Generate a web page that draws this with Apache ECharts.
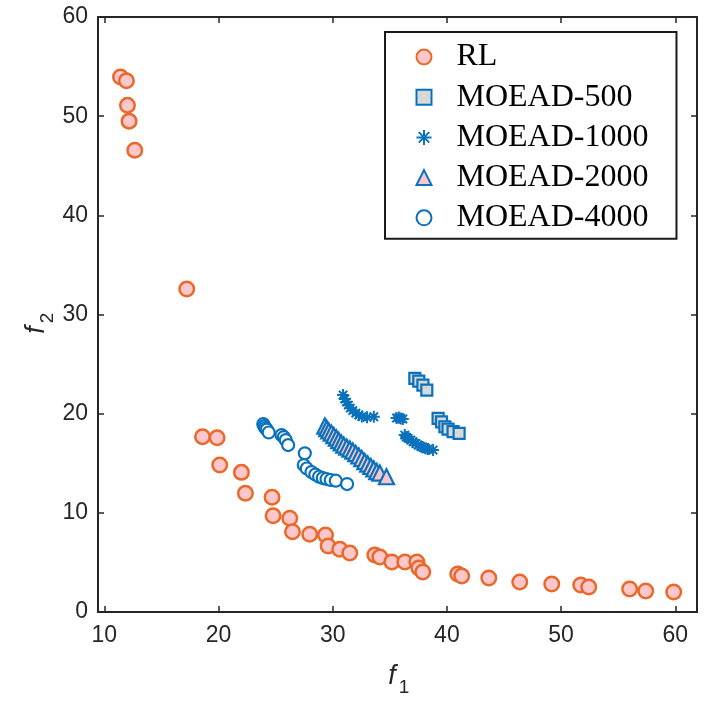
<!DOCTYPE html>
<html>
<head>
<meta charset="utf-8">
<script src="https://cdn.jsdelivr.net/npm/echarts@6/dist/echarts.min.js"></script>
<style>
  html, body { margin: 0; padding: 0; background: #ffffff; }
  #chart { width: 705px; height: 705px; }
</style>
</head>
<body>
<div id="chart"></div>
<script>
// values
const rlF1 = [11.42, 11.94, 12.03, 12.17, 12.67, 17.22, 18.6, 19.88, 20.11, 22.01, 22.36, 24.69, 24.78,
  26.24, 26.48, 27.99, 29.37, 29.6, 30.62, 31.5, 33.69, 34.13, 35.18, 36.32, 37.37, 37.54, 37.89,
  40.95, 41.3, 43.67, 46.38, 49.18, 51.72, 52.42, 56.0, 57.41, 59.86];
const rlF2 = [53.96, 53.56, 51.1, 49.5, 46.57, 32.56, 17.67, 17.57, 14.82, 14.08, 11.97, 11.56, 9.71,
  9.45, 8.09, 7.83, 7.76, 6.65, 6.32, 5.95, 5.75, 5.54, 5.04, 5.04, 5.04, 4.44, 4.03,
  3.83, 3.63, 3.43, 3.02, 2.82, 2.72, 2.52, 2.32, 2.12, 2.02];

const m500F1 = [37.19, 37.54, 37.9, 38.24, 39.23, 39.53, 39.82, 40.1, 40.54, 41.07];
const m500F2 = [23.56, 23.29, 22.88, 22.38, 19.53, 19.18, 18.68, 18.45, 18.18, 18.01];

const m1000F1 = [30.91, 31.06, 31.21, 31.37, 31.54, 31.76, 32.02, 32.29, 32.55, 33.01, 33.6,
  35.59, 35.79, 35.96, 36.14,
  36.31, 36.44, 36.6, 36.84, 37.04, 37.28, 37.48, 37.72, 37.92, 38.15, 38.35, 38.79];
const m1000F2 = [21.88, 21.47, 21.17, 20.87, 20.56, 20.31, 20.06, 19.86, 19.71, 19.63, 19.69,
  19.56, 19.61, 19.51, 19.46,
  17.84, 17.64, 17.51, 17.34, 17.17, 16.99, 16.83, 16.68, 16.61, 16.48, 16.43, 16.33];

const m2000F1 = [29.31, 29.48, 29.66, 29.88, 30.1, 30.32, 30.53, 30.75, 30.97, 31.23, 31.5,
  31.76, 32.02, 32.29, 32.55, 32.81, 33.07, 33.34, 33.6, 33.86, 34.13, 34.71];
const m2000F2 = [18.75, 18.5, 18.25, 18.04, 17.79, 17.54, 17.29, 17.04, 16.83, 16.63, 16.43,
  16.23, 15.98, 15.73, 15.47, 15.17, 14.92, 14.67, 14.42, 14.16, 14.01, 13.64];

const m4000F1 = [23.92, 24.01, 24.1, 24.23, 24.4, 25.52, 25.72, 25.89, 26.1, 27.56, 27.47, 27.73,
  28.14, 28.48, 28.81, 29.13, 29.46, 29.83, 30.27, 31.26];
const m4000F2 = [18.95, 18.75, 18.55, 18.4, 18.1, 17.84, 17.64, 17.34, 16.83, 16.0, 14.82, 14.47,
  14.11, 13.86, 13.64, 13.51, 13.41, 13.31, 13.24, 12.9];

const seriesNames = ['RL', 'MOEAD-500', 'MOEAD-1000', 'MOEAD-2000', 'MOEAD-4000'];
const yTicks = [0, 10, 20, 30, 40, 50, 60];

function zip(xs, ys) {
  return xs.map((x, i) => [x, ys[i]]);
}

const blue = '#0a72bd';
const orange = '#e8692a';
const star = 'path://M0,-6L0,6M-6,0L6,0M-4.2,-4.2L4.2,4.2M-4.2,4.2L4.2,-4.2';
const axisColor = '#262626';
const tickFont = '"Liberation Sans Narrow", "Liberation Sans", Arial, sans-serif';

const chart = echarts.init(document.getElementById('chart'), null, { renderer: 'canvas' });

const baseAxis = {
  axisLine: { show: true, onZero: false, lineStyle: { color: axisColor, width: 2 } },
  axisTick: { show: true, inside: true, length: 6, lineStyle: { color: axisColor, width: 1.5 } },
  splitLine: { show: false }
};

const option = {
  animation: false,
  backgroundColor: '#ffffff',
  grid: { left: 98, right: 8, top: 17, bottom: 93 },
  xAxis: [
    Object.assign({}, baseAxis, {
      type: 'value', min: 9.45, max: 61.9, splitNumber: 5, position: 'bottom',
      axisLabel: {
        color: axisColor, fontFamily: tickFont, fontSize: 23, margin: 12,
        showMinLabel: false, showMaxLabel: false,
        formatter: v => (v % 10 === 0 ? String(v) : '')
      }
    }),
    Object.assign({}, baseAxis, {
      type: 'value', min: 9.45, max: 61.9, splitNumber: 5, position: 'top',
      axisLabel: { show: false }
    })
  ],
  yAxis: [
    Object.assign({}, baseAxis, {
      type: 'value', min: yTicks[0], max: yTicks[yTicks.length - 1], interval: 10, position: 'left',
      axisLabel: { color: axisColor, fontFamily: tickFont, fontSize: 23, margin: 10 }
    }),
    Object.assign({}, baseAxis, {
      type: 'value', min: yTicks[0], max: yTicks[yTicks.length - 1], interval: 10, position: 'right',
      axisLabel: { show: false }
    })
  ],
  legend: {
    data: seriesNames,
    orient: 'vertical',
    left: 385,
    top: 32,
    padding: [9, 28, 5, 29],
    itemWidth: 15,
    itemHeight: 15,
    itemGap: 8.2,
    symbolKeepAspect: true,
    borderColor: '#1a1a1a',
    borderWidth: 2,
    backgroundColor: '#ffffff',
    textStyle: {
      fontFamily: '"Liberation Serif", "Times New Roman", serif', fontSize: 32, lineHeight: 30,
      color: '#000000', padding: [0, 0, 0, 20]
    }
  },
  series: [
    {
      name: seriesNames[0], type: 'scatter', data: zip(rlF1, rlF2),
      symbol: 'circle', symbolSize: 14.5,
      itemStyle: { color: '#fdc7cb', borderColor: orange, borderWidth: 2.5, opacity: 1 }
    },
    {
      name: seriesNames[1], type: 'scatter', data: zip(m500F1, m500F2),
      symbol: 'rect', symbolSize: 11,
      itemStyle: { color: '#d8d8d8', borderColor: blue, borderWidth: 2.2, opacity: 1 }
    },
    {
      name: seriesNames[2], type: 'scatter', data: zip(m1000F1, m1000F2),
      symbol: star, symbolSize: 12,
      itemStyle: { color: 'none', borderColor: blue, borderWidth: 2, opacity: 1 }
    },
    {
      name: seriesNames[3], type: 'scatter', data: zip(m2000F1, m2000F2),
      symbol: 'triangle', symbolSize: 15,
      itemStyle: { color: '#f8c6cc', borderColor: blue, borderWidth: 2.2, opacity: 1 }
    },
    {
      name: seriesNames[4], type: 'scatter', data: zip(m4000F1, m4000F2),
      symbol: 'circle', symbolSize: 12,
      itemStyle: { color: '#ffffff', borderColor: blue, borderWidth: 2.2, opacity: 1 }
    }
  ],
  graphic: [
    {
      type: 'group', x: 392, y: 676,
      children: [
        { type: 'text', x: 0, y: 0, style: { text: 'f', fontFamily: 'Liberation Sans, Arial, sans-serif', fontStyle: 'italic', fontSize: 27, fill: axisColor, align: 'center', verticalAlign: 'middle' } },
        { type: 'text', x: 12, y: 12, style: { text: '1', fontFamily: tickFont, fontSize: 19, fill: axisColor, align: 'center', verticalAlign: 'middle' } }
      ]
    },
    {
      type: 'group', x: 36, y: 330, rotation: Math.PI / 2,
      children: [
        { type: 'text', x: 0, y: 0, style: { text: 'f', fontFamily: 'Liberation Sans, Arial, sans-serif', fontStyle: 'italic', fontSize: 27, fill: axisColor, align: 'center', verticalAlign: 'middle' } },
        { type: 'text', x: 12, y: 12, style: { text: '2', fontFamily: tickFont, fontSize: 19, fill: axisColor, align: 'center', verticalAlign: 'middle' } }
      ]
    }
  ]
};

chart.setOption(option);
</script>
</body>
</html>
